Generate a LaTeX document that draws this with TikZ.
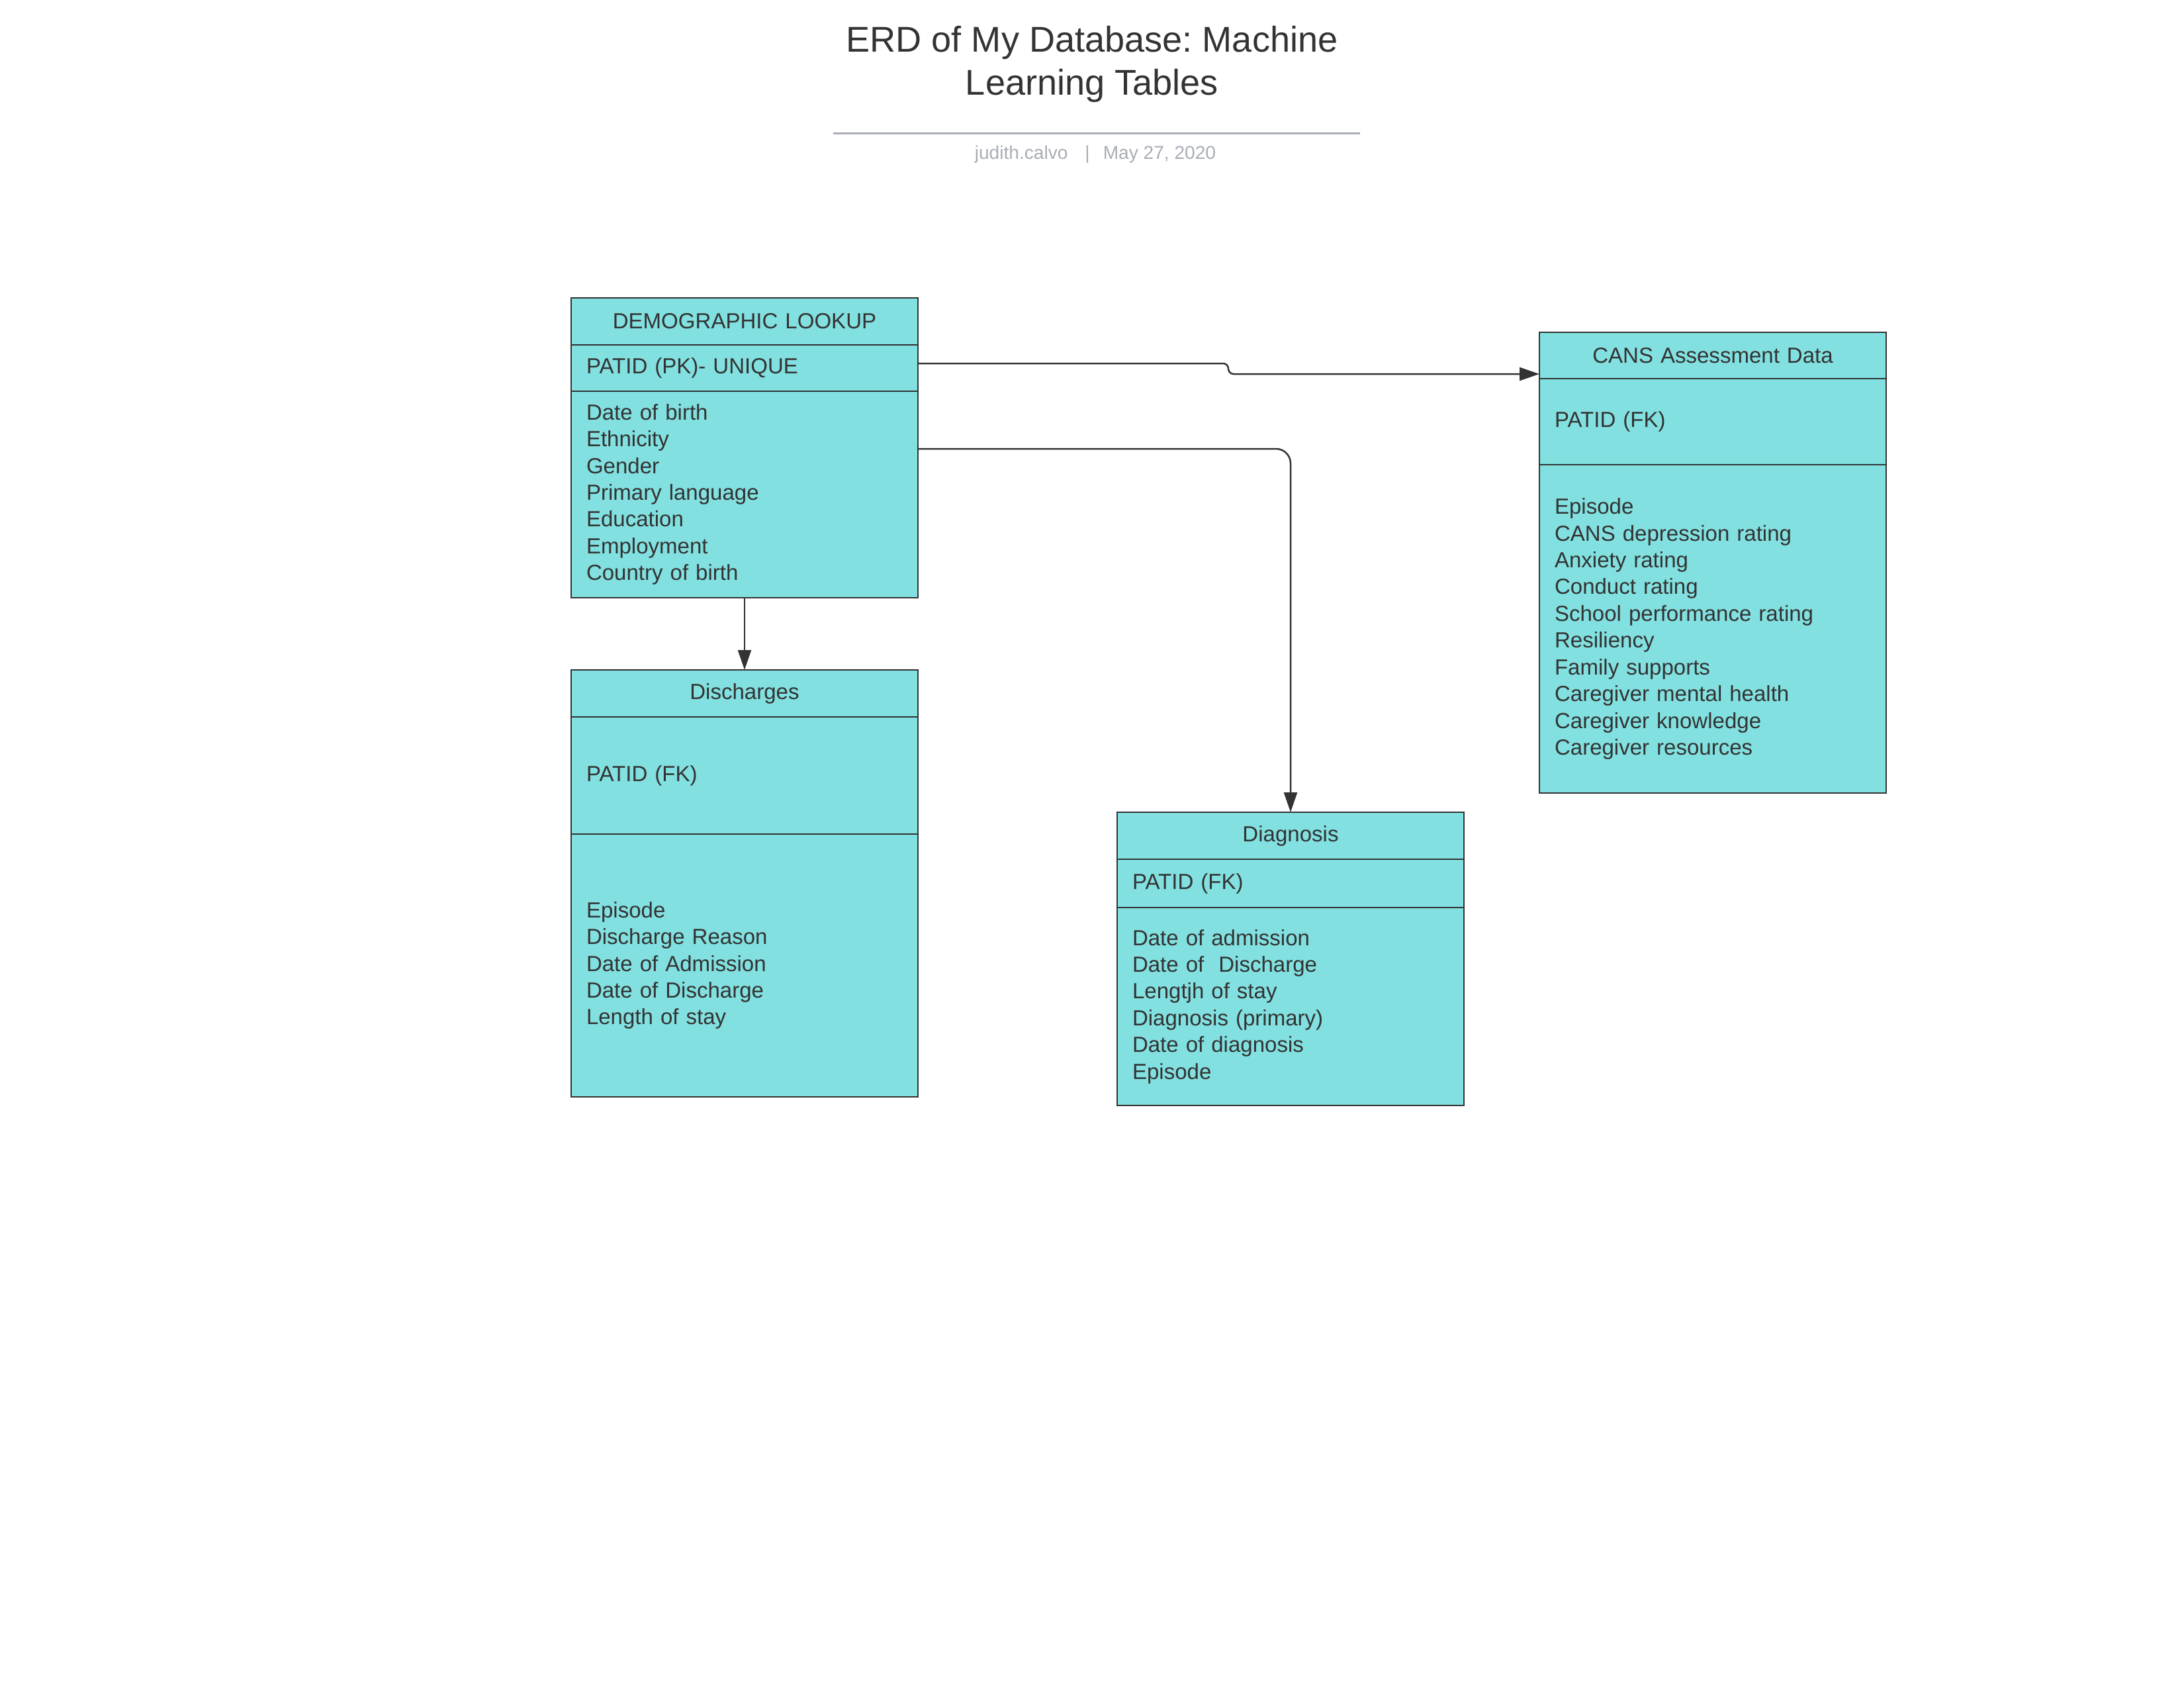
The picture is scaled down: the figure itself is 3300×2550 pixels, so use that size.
\documentclass[tikz,border=0pt]{standalone}
\usepackage{fontspec}
\setmainfont{Liberation Sans}
\frenchspacing
\usetikzlibrary{positioning,arrows.meta}
\definecolor{tablefill}{HTML}{82E0E0}
\definecolor{ink}{HTML}{333333}
\definecolor{rulegray}{HTML}{A8ADB5}
\tikzset{
>={Triangle[length=3mm,width=2mm]},
  table/.style={
    rectangle,
    fill=tablefill,
    draw=ink, line width=0.25mm,
    text=ink,
    font=\fontsize{9.4pt}{11.5pt}\selectfont,
    text width=47.8mm,
    inner xsep=2.3mm, inner ysep=0pt,
    outer sep=0pt,
    anchor=north},
  tablehead/.style={table, align=center, minimum height=7.1mm},
  tablekey/.style={table, align=left},
  tablebody/.style={table, align=left},
  link/.style={draw=ink, line width=0.25mm, ->},
}

\begin{document}
\begin{tikzpicture}[x=0.1mm, y=-0.1mm]
\useasboundingbox (0,0) rectangle (3300,2550);

% title block
\node[text=ink, font=\fontsize{15.4pt}{18.5pt}\selectfont, align=center] (Title) at (1650,97) {ERD of My Database: Machine\\Learning Tables};
\draw[rulegray, line width=0.3mm] (1259,202) -- (2055,202);
\node[text=rulegray, font=\fontsize{8pt}{9.6pt}\selectfont] (Byline) at (1655,233) {judith.calvo\hspace{2.6mm}|\hspace{2mm}May 27, 2020};

% DEMOGRAPHIC LOOKUP
\node[tablehead, anchor=north west] (DemographicHead) at (863,450) {DEMOGRAPHIC LOOKUP};
\node[tablekey, below=0pt of DemographicHead, minimum height=7mm] (DemographicKey) {PATID (PK)- UNIQUE};
\node[tablebody, below=0pt of DemographicKey, minimum height=31.2mm] (DemographicFields) {Date of birth\\Ethnicity\\Gender\\Primary language\\Education\\Employment\\Country of birth};

% Discharges
\node[tablehead, below=10.9mm of DemographicFields] (DischargesHead) {Discharges};
\node[tablekey, below=0pt of DischargesHead, minimum height=17.7mm] (DischargesKey) {PATID (FK)};
\node[tablebody, below=0pt of DischargesKey, minimum height=39.7mm] (DischargesFields) {Episode\\Discharge Reason\\Date of Admission\\Date of Discharge\\Length of stay};

% Diagnosis
\node[tablehead, anchor=north west] (DiagnosisHead) at (1688,1227) {Diagnosis};
\node[tablekey, below=0pt of DiagnosisHead, minimum height=7.3mm] (DiagnosisKey) {PATID (FK)};
\node[tablebody, below=0pt of DiagnosisKey, minimum height=29.9mm] (DiagnosisFields) {Date of admission\\Date of\ \ Discharge\\Lengtjh of stay\\Diagnosis (primary)\\Date of diagnosis\\Episode};

% CANS Assessment Data
\node[tablehead, anchor=north west, minimum height=7mm] (CansHead) at (2326,502) {CANS Assessment Data};
\node[tablekey, below=0pt of CansHead, minimum height=13mm] (CansKey) {PATID (FK)};
\node[tablebody, below=0pt of CansKey, minimum height=49.6mm] (CansFields) {Episode\\CANS depression rating\\Anxiety rating\\Conduct rating\\School performance rating\\Resiliency\\Family supports\\Caregiver mental health\\Caregiver knowledge\\Caregiver resources};

% links
\draw[link, rounded corners=0.8mm] ([yshift=0.7mm]DemographicKey.east) -- ++(46.9mm,0) |- ([yshift=-2.8mm]CansHead.west);
\draw[link, rounded corners=2.2mm] ([yshift=6.9mm]DemographicFields.east) -| (DiagnosisHead.north);
\draw[link] (DemographicFields.south) -- (DischargesHead.north);

\end{tikzpicture}
\end{document}
